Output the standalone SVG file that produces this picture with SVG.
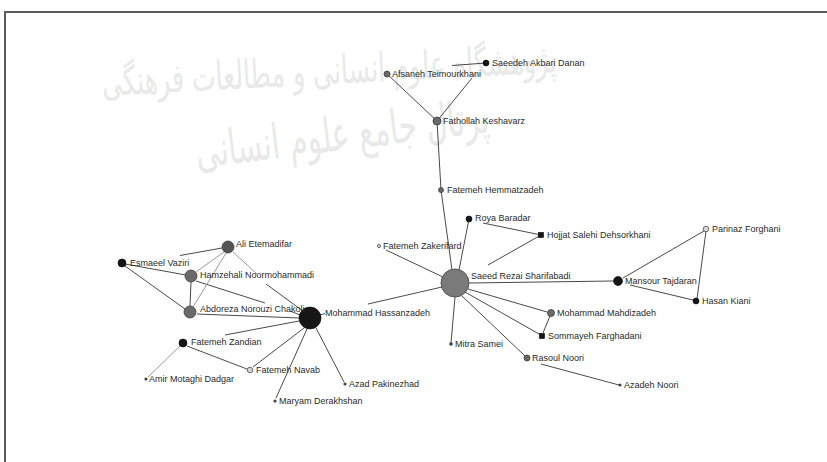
<svg xmlns="http://www.w3.org/2000/svg" width="827" height="462" viewBox="0 0 827 462">
<style>
  .wm { font-family: "DejaVu Sans", sans-serif; fill: #e9e9e9; }
  .e { stroke: #4a4a4a; stroke-width: 1; fill: none; }
  .el { stroke: #9a9a9a; stroke-width: 1; fill: none; }
  .lbl { font-family: "Liberation Sans", Arial, sans-serif; font-size: 9px; fill: #2a2a2a; }
  .blk { fill: #161616; stroke: #000; stroke-width: 0.6; }
  .gry { fill: #6a6a6a; stroke: #3e3e3e; stroke-width: 0.8; }
  .big { fill: #7a7a7a; stroke: #555; stroke-width: 1; }
  .hol { fill: #d8d8d8; stroke: #4a4a4a; stroke-width: 0.8; }
  .dot { fill: #444; }
</style>
<rect width="827" height="462" fill="#ffffff"/>
<g id="watermark">
  <text class="wm" x="330" y="84" font-size="40" text-anchor="middle" textLength="455" lengthAdjust="spacingAndGlyphs" transform="rotate(-3 330 84)">پژوهشگاه علوم انسانی و مطالعات فرهنگی</text>
  <text class="wm" x="344" y="150" font-size="48" text-anchor="middle" textLength="295" lengthAdjust="spacingAndGlyphs" transform="rotate(-7 344 150)">پرتال جامع علوم انسانی</text>
</g>
<path d="M5,462 L5,12 L827,12" stroke="#5a5a5a" stroke-width="2" fill="none"/>
<g id="connectors">
  <path class="e" d="M387,74 L437,121"/>
  <path class="e" d="M437,121 L472,78"/>
  <path class="e" d="M452,65.5 L486,63"/>
  <path class="e" d="M437,121 L441,190"/>
  <path class="e" d="M441,190 L452,270"/>
  <path class="e" d="M469,219 L459,270"/>
  <path class="e" d="M483,223 L541,235"/>
  <path class="e" d="M541,235 L488,265"/>
  <path class="e" d="M386,250 L443,277"/>
  <path class="e" d="M469,283 L613,281"/>
  <path class="e" d="M468,289 L547,312"/>
  <path class="e" d="M465,292 L539,334"/>
  <path class="e" d="M550,316 L543,333"/>
  <path class="e" d="M455,297 L451,343"/>
  <path class="e" d="M461,295 L525,356"/>
  <path class="e" d="M541,364 L619,385"/>
  <path class="e" d="M623,278 L704,231"/>
  <path class="e" d="M630,285 L693,300"/>
  <path class="e" d="M706,231 L697,299"/>
  <path class="e" d="M320,315 L325,313.5"/>
  <path class="e" d="M368,304 L442,287"/>
  <path class="e" d="M180,255.5 L222,248"/>
  <path class="e" d="M125,264 L186,275"/>
  <path class="e" d="M125,266 L185,309"/>
  <path class="e" d="M196,281 L265,303"/>
  <path class="e" d="M290,311 L300,315"/>
  <path class="el" d="M224,252 L196,272"/>
  <path class="el" d="M226,253 L193,307"/>
  <path class="el" d="M233,252 L257,274"/>
  <path class="e" d="M266,284 L303,311"/>
  <path class="e" d="M191,282 L190,306"/>
  <path class="e" d="M197,314 L299,318"/>
  <path class="e" d="M225,335 L299,321"/>
  <path class="e" d="M187,346 L247,369"/>
  <path class="el" d="M180,346 L148,377"/>
  <path class="e" d="M253,367 L304,328"/>
  <path class="e" d="M276,398 L307,329"/>
  <path class="e" d="M344,382 L316,328"/>
</g>
<g id="n-saeedeh"><circle class="blk" cx="486" cy="63" r="3"/><text class="lbl" x="492" y="66">Saeedeh Akbari Danan</text></g>
<g id="n-afsaneh"><circle class="gry" cx="387" cy="74" r="3"/><text class="lbl" x="392" y="77">Afsaneh Teimourkhani</text></g>
<g id="n-fathollah"><circle class="gry" cx="437" cy="121" r="4"/><text class="lbl" x="443" y="124">Fathollah Keshavarz</text></g>
<g id="n-hemmatzadeh"><circle class="gry" cx="441" cy="190" r="2.5"/><text class="lbl" x="447" y="193">Fatemeh Hemmatzadeh</text></g>
<g id="n-roya"><circle class="blk" cx="469" cy="219" r="3"/><text class="lbl" x="475" y="221">Roya Baradar</text></g>
<g id="n-hojjat"><rect class="blk" x="538.5" y="232.5" width="5" height="5"/><text class="lbl" x="547" y="238">Hojjat Salehi Dehsorkhani</text></g>
<g id="n-zakerifard"><circle class="hol" cx="379" cy="246" r="1.6"/><text class="lbl" x="383" y="249">Fatemeh Zakerifard</text></g>
<g id="n-saeed"><circle class="big" cx="455" cy="283" r="14"/><text class="lbl" x="471" y="279">Saeed Rezai Sharifabadi</text></g>
<g id="n-mansour"><circle class="blk" cx="618" cy="281" r="4.5"/><text class="lbl" x="625" y="284">Mansour Tajdaran</text></g>
<g id="n-parinaz"><circle class="hol" cx="706" cy="229" r="2.8"/><text class="lbl" x="712" y="232">Parinaz Forghani</text></g>
<g id="n-hasan"><circle class="blk" cx="696" cy="301" r="3"/><text class="lbl" x="702" y="304">Hasan Kiani</text></g>
<g id="n-mahdizadeh"><circle class="gry" cx="551" cy="313" r="3.5"/><text class="lbl" x="557" y="316">Mohammad Mahdizadeh</text></g>
<g id="n-somayeh"><rect class="blk" x="539.5" y="333.5" width="5" height="5"/><text class="lbl" x="548" y="339">Sommayeh Farghadani</text></g>
<g id="n-mitra"><circle class="dot" cx="451" cy="344" r="1.8"/><text class="lbl" x="455" y="347">Mitra Samei</text></g>
<g id="n-rasoul"><circle class="gry" cx="527" cy="358" r="3"/><text class="lbl" x="532" y="361">Rasoul Noori</text></g>
<g id="n-azadeh"><circle class="dot" cx="620" cy="385" r="1.6"/><text class="lbl" x="624" y="388">Azadeh Noori</text></g>
<g id="n-hassanzadeh"><circle class="blk" cx="310" cy="318" r="11" fill="#1e1e1e"/><text class="lbl" x="325" y="316">Mohammad Hassanzadeh</text></g>
<g id="n-ali"><circle class="gry" cx="228" cy="247" r="6" style="fill:#555"/><text class="lbl" x="236" y="247">Ali Etemadifar</text></g>
<g id="n-esmaeil"><circle class="blk" cx="122" cy="263" r="4"/><text class="lbl" x="130" y="266">Esmaeel Vaziri</text></g>
<g id="n-hamzehali"><circle class="gry" cx="191" cy="276" r="6"/><text class="lbl" x="200" y="278">Hamzehali Noormohammadi</text></g>
<g id="n-abdoreza"><circle class="gry" cx="190" cy="312" r="6"/><text class="lbl" x="200" y="312">Abdoreza Norouzi Chakoli</text></g>
<g id="n-zandian"><circle class="blk" cx="183" cy="343" r="4"/><text class="lbl" x="191" y="345">Fatemeh Zandian</text></g>
<g id="n-amir"><circle class="dot" cx="146" cy="379" r="1.6"/><text class="lbl" x="149" y="382">Amir Motaghi Dadgar</text></g>
<g id="n-navab"><circle class="hol" cx="250" cy="370" r="2.8"/><text class="lbl" x="256" y="373">Fatemeh Navab</text></g>
<g id="n-azad"><circle class="dot" cx="345" cy="384" r="1.6"/><text class="lbl" x="349" y="387">Azad Pakinezhad</text></g>
<g id="n-maryam"><circle class="dot" cx="275" cy="401" r="1.6"/><text class="lbl" x="279" y="404">Maryam Derakhshan</text></g>
</svg>
